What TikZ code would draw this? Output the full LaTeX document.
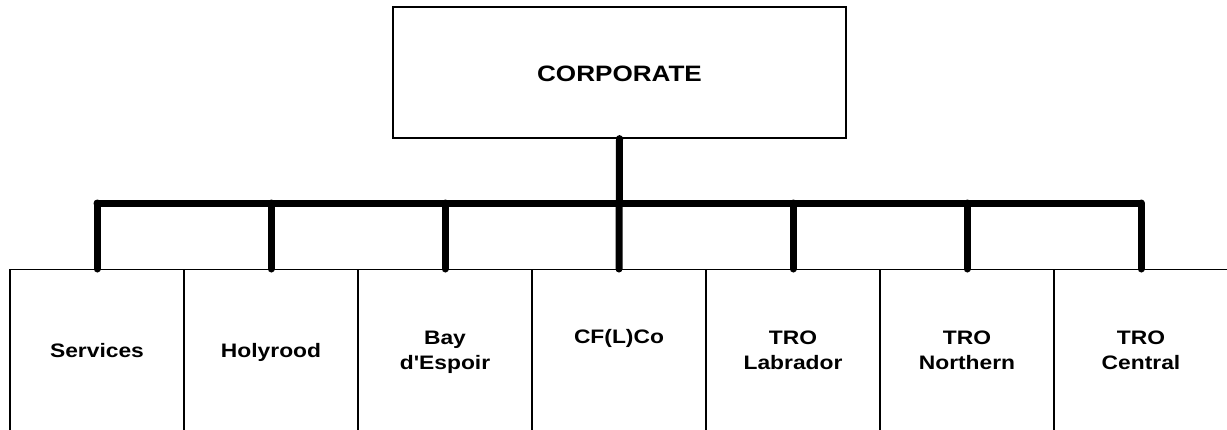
\documentclass[tikz,border=0pt]{standalone}
\usepackage{fontspec}
\newfontfamily\labfont{Liberation Sans}[FakeStretch=1.17]
\begin{document}
\begin{tikzpicture}[x=1pt,y=-1pt,
  thinbox/.style={draw, line width=1.2pt, inner sep=0pt},
  bus/.style={line width=7pt, line cap=round},
  lab/.style={font=\labfont\bfseries\fontsize{19.5}{25.5}\selectfont, align=center, inner sep=0pt, anchor=base},
  toplab/.style={font=\labfont\bfseries\fontsize{22.3}{26}\selectfont, inner sep=0pt, anchor=base}]
\useasboundingbox (0,0) rectangle (1227,429);
\clip (0,0) rectangle (1227,429);
% top box
\node[thinbox, minimum width=453pt, minimum height=131pt] (corp) at (619.5,72.5) {};
\node[toplab] (corpt) at (619.5,81) {CORPORATE};
% bottom boxes
\foreach \i in {1,...,7}{
  \node[thinbox, minimum width=174pt, minimum height=220pt, anchor=north] (b\i) at (97+174*\i-174,269) {};
}
% labels
\node[lab] (t1) at (97,357) {Services};
\node[lab] (t2) at (271,357) {Holyrood};
\node[lab] (t3) at (445,369.5) {Bay\\d'Espoir};
\node[lab] (t4) at (619,343.5) {CF(L)Co};
\node[lab] (t5) at (793,369.5) {TRO\\Labrador};
\node[lab] (t6) at (967,369.5) {TRO\\Northern};
\node[lab] (t7) at (1141,369.5) {TRO\\Central};
% connectors
\coordinate (busL) at (97,203);
\coordinate (busR) at (1141,203);
\draw[bus] (corp.south) -- (b4.north);
\draw[bus] (busL) -- (busR);
\foreach \i in {1,2,3,5,6,7}{
  \draw[bus] (b\i.north |- busL) -- (b\i.north);
}
\end{tikzpicture}
\end{document}
